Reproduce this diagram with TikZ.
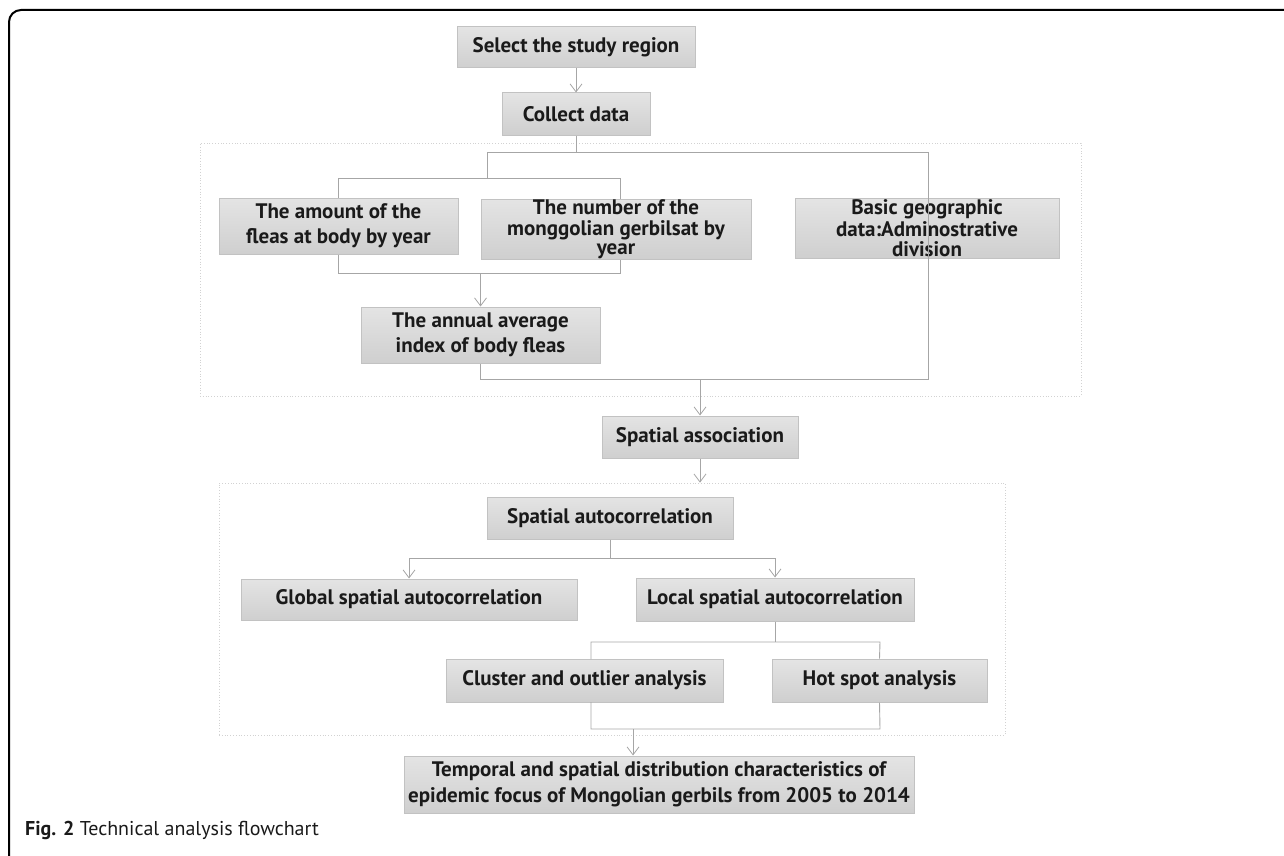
\documentclass[tikz,border=0pt]{standalone}
\usepackage{fontspec}
\setmainfont{PT Sans}
\usetikzlibrary{arrows.meta}
\definecolor{boxtop}{HTML}{E4E4E4}
\definecolor{boxbot}{HTML}{CFCFCF}
\definecolor{boxedge}{HTML}{C2C2C2}
\definecolor{linec}{HTML}{A6A6A6}
\definecolor{framec}{HTML}{D2D2D2}
\definecolor{txt}{HTML}{1A1A1A}
\tikzset{
  box/.style={draw=boxedge, line width=1pt, top color=boxtop, bottom color=boxbot,
    text=txt, font=\fontsize{21}{25}\selectfont\bfseries, align=center, inner sep=0pt},
  frm/.style={draw=framec, dotted, line width=0.8pt, inner sep=0pt},
  conn/.style={draw=linec, line width=0.9pt},
  arr/.style={conn, -{Straight Barb[length=8pt,width=12pt,line width=0.8pt]}},
}
\begin{document}
\begin{tikzpicture}[x=1pt,y=-1pt]
\useasboundingbox (0,0) rectangle (1284,856);
\begin{scope}
\clip (0,0) rectangle (1284,856);
\draw[line width=2pt, rounded corners=12pt] (1300,10) -- (9,10) -- (9,868) -- (30,868);
\end{scope}
% frames
\node[frm, minimum width=881pt, minimum height=253pt] (fr1) at (640.5,269.5) {};
\node[frm, minimum width=786pt, minimum height=252pt] (fr2) at (612,609) {};
% nodes
\node[box, minimum width=238pt, minimum height=41pt] (sel) at (576,47.5) {Select the study region};
\node[box, minimum width=148pt, minimum height=42pt] (col) at (576,114) {Collect data};
\node[box, minimum width=239pt, minimum height=56pt] (amt) at (338.5,226) {The amount of the\\ fleas at body by year};
\node[box, minimum width=270pt, minimum height=60pt] (num) at (616,229) {The number of the\\[-4pt] monggolian gerbilsat by\\[-6pt] year};
\node[box, minimum width=264pt, minimum height=60pt] (geo) at (927,228) {Basic geographic\\[-3pt] data:Adminostrative\\[-5pt] division};
\node[box, minimum width=239pt, minimum height=56pt] (ann) at (480.5,335) {The annual average\\ index of body fleas};
\node[box, minimum width=196pt, minimum height=42pt] (assoc) at (700,437) {Spatial association};
\node[box, minimum width=246pt, minimum height=42pt] (sac) at (610,518) {Spatial autocorrelation};
\node[box, minimum width=336pt, minimum height=41pt] (glob) at (409,599.5) {Global spatial autocorrelation};
\node[box, minimum width=278pt, minimum height=43pt] (loc) at (775,599.5) {Local spatial autocorrelation};
\node[box, minimum width=277pt, minimum height=43pt] (clus) at (584.5,680.5) {Cluster and outlier analysis};
\node[box, minimum width=215pt, minimum height=43pt] (hot) at (879.5,680.5) {Hot spot analysis};
\node[box, minimum width=510pt, minimum height=57pt] (fin) at (659,784.5) {Temporal and spatial distribution characteristics of\\[1pt] epidemic focus of Mongolian gerbils from 2005 to 2014};
% junction coordinates
\coordinate (jA) at (487,152);
\coordinate (jB) at (928,152);
\coordinate (jC) at (487,178);
\coordinate (jD) at (620,178);
\coordinate (jE) at (620,273);
\coordinate (jG) at (928,379);
\coordinate (jH) at (610,558);
\coordinate (jI) at (880,642);
\coordinate (cT) at (591,659);
\coordinate (cB) at (591,702);
\coordinate (jJ) at (880,729);
\coordinate (jK) at (633,729);
% connectors
\draw[arr] (sel) -- (col);
\draw[conn] (col.south) |- (jA) -- (jC);
\draw[conn] (col.south |- jA) -- (jB) -- (jG) -| (ann.south);
\draw[conn] (amt.north) |- (jD) -- (jD |- num.north);
\draw[conn] (amt.south) |- (jE) -- (jE |- num.south);
\draw[arr] (ann.north |- jE) -- (ann.north);
\draw[arr] (assoc.north |- jG) -- (assoc.north);
\draw[arr] (assoc.south) -- (assoc.south |- fr2.north);
\draw[conn] (sac.south) -- (jH);
\draw[conn] (glob.north |- jH) -- (loc.north |- jH);
\draw[arr] (glob.north |- jH) -- (glob.north);
\draw[arr] (loc.north |- jH) -- (loc.north);
\draw[conn] (loc.south) -- (loc.south |- jI);
\draw[conn] (cT) |- (jI) -- (hot.north);
\draw[conn] (cB) |- (jJ) -- (hot.south);
\draw[arr] (jK) -- (jK |- fin.north);
% caption
\node[anchor=base west, inner sep=0pt, text=txt, font=\fontsize{20}{24}\selectfont] (cap) at (25,835) {\textbf{Fig. 2} Technical analysis flowchart};
\end{tikzpicture}
\end{document}
